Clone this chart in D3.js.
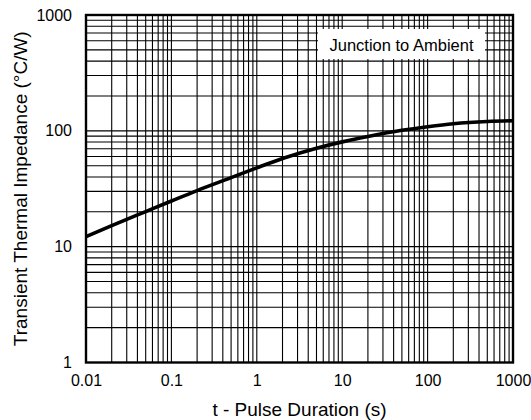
<!DOCTYPE html>
<html>
<head>
<meta charset="utf-8">
<script src="https://cdn.jsdelivr.net/npm/d3@7"></script>
<style>
  body { margin: 0; background: #fff; }
  svg text { font-family: "Liberation Sans", Arial, sans-serif; fill: #000; }
</style>
</head>
<body>
<div id="chart"></div>
<script>
// pulse duration (s) and transient thermal impedance (°C/W)
const pulseTimes = [0.01, 0.02, 0.05, 0.1, 0.2, 0.5, 1, 2, 5, 10, 20, 50, 100, 200, 500, 1000]
const impedance = [12.2, 15.2, 20.1, 24.8, 30.5, 39.4, 47.9, 57.7, 70.8, 80.3, 89.3, 101, 108.6, 115.3, 120.5, 122.2]

const xTicks = [0.01, 0.1, 1, 10, 100, 1000]
const yTicks = [1, 10, 100, 1000]
const legendLabel = 'Junction to Ambient'

const width = 531
const height = 420
const margin = { top: 15, right: 18, bottom: 57.5, left: 86 }

const svg = d3.select('#chart').append('svg')
    .attr('width', width)
    .attr('height', height)

const x = d3.scaleLog()
    .domain([0.01, 1000])
    .range([margin.left, width - margin.right])

const y = d3.scaleLog()
    .domain([1, 1000])
    .range([height - margin.bottom, margin.top])

// every 1..9 step in each decade
function _minorSteps(lo, hi) {
    const steps = []
    for (let d = lo; d < hi; d *= 10) {
        for (let k = 1; k <= 9; k++) steps.push(d * k)
    }
    steps.push(hi)
    return steps
}

const grid = svg.append('g').attr('stroke', '#000').attr('stroke-width', 1.1)

grid.selectAll('line.v')
    .data(_minorSteps(0.01, 1000))
    .enter().append('line')
        .attr('x1', d => x(d)).attr('x2', d => x(d))
        .attr('y1', y(1)).attr('y2', y(1000))

grid.selectAll('line.h')
    .data(_minorSteps(1, 1000))
    .enter().append('line')
        .attr('x1', x(0.01)).attr('x2', x(1000))
        .attr('y1', d => y(d)).attr('y2', d => y(d))

// legend box
const legend = svg.append('g')
legend.append('rect')
    .attr('x', 318).attr('y', 29)
    .attr('width', 167).attr('height', 30)
    .attr('fill', '#fff')
legend.append('text')
    .attr('x', 401.5).attr('y', 50.5)
    .attr('text-anchor', 'middle')
    .attr('font-size', 16.5)
    .text(legendLabel)

// curve
const line = d3.line()
    .x((d, i) => x(pulseTimes[i]))
    .y(d => y(d))
    .curve(d3.curveMonotoneX)

svg.append('path')
    .datum(impedance)
    .attr('fill', 'none')
    .attr('stroke', '#000')
    .attr('stroke-width', 3.6)
    .attr('d', line)

// frame
svg.append('rect')
    .attr('x', x(0.01)).attr('y', y(1000))
    .attr('width', x(1000) - x(0.01))
    .attr('height', y(1) - y(1000))
    .attr('fill', 'none')
    .attr('stroke', '#000')
    .attr('stroke-width', 2.4)

// axes
const xAxis = svg.append('g')
    .attr('transform', `translate(0, ${y(1)})`)
    .call(d3.axisBottom(x).tickValues(xTicks).tickSize(0).tickPadding(12).tickFormat(d => String(d)))
xAxis.select('.domain').remove()
xAxis.selectAll('text').attr('font-size', 16).attr('font-family', '"Liberation Sans", Arial, sans-serif')

const yAxis = svg.append('g')
    .attr('transform', `translate(${x(0.01)}, 0)`)
    .call(d3.axisLeft(y).tickValues(yTicks).tickSize(0).tickPadding(14).tickFormat(d => String(d)))
yAxis.select('.domain').remove()
yAxis.selectAll('text').attr('font-size', 16).attr('font-family', '"Liberation Sans", Arial, sans-serif')

svg.append('text')
    .attr('x', (x(0.01) + x(1000)) / 2)
    .attr('y', 416)
    .attr('text-anchor', 'middle')
    .attr('font-size', 19)
    .text('t - Pulse Duration (s)')

svg.append('text')
    .attr('transform', `translate(27, ${(y(1) + y(1000)) / 2}) rotate(-90)`)
    .attr('text-anchor', 'middle')
    .attr('font-size', 19)
    .text('Transient Thermal Impedance (°C/W)')
</script>
</body>
</html>
